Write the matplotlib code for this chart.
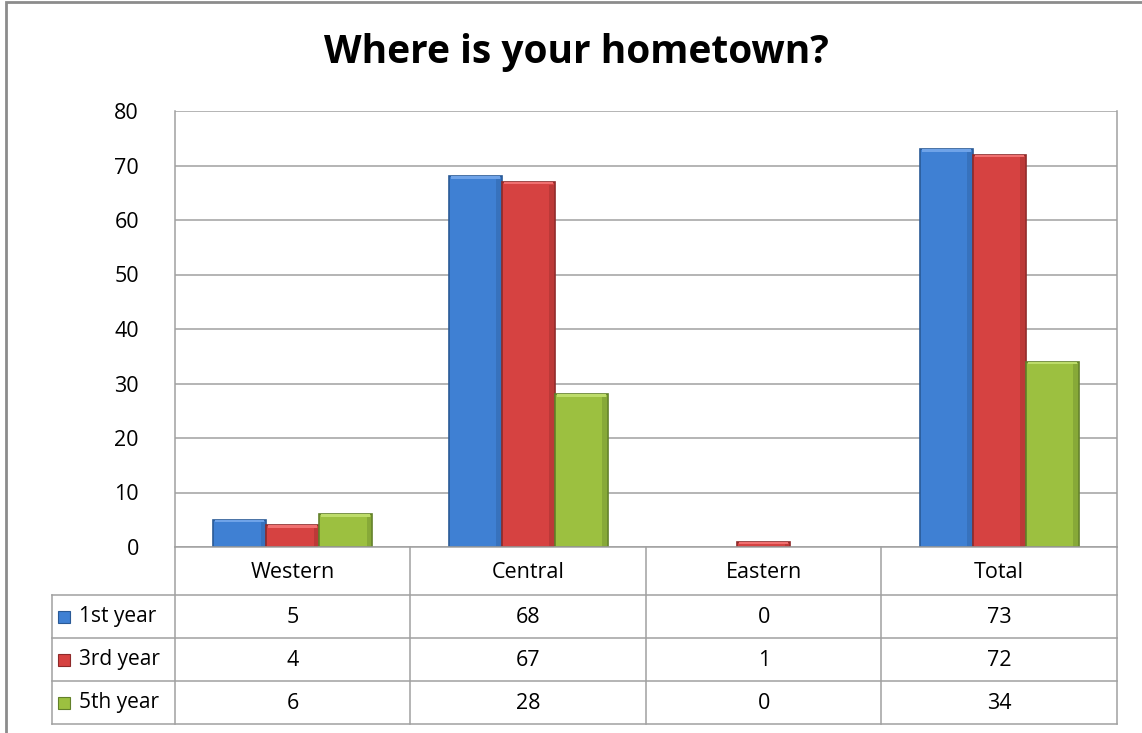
import matplotlib
matplotlib.use("Agg")
import matplotlib.pyplot as plt
from matplotlib.patches import Rectangle

title = "Where is your hometown?"
categories = ["Western", "Central", "Eastern", "Total"]
series_names = ["1st year", "3rd year", "5th year"]
first_year = [5, 68, 0, 73]
third_year = [4, 67, 1, 72]
fifth_year = [6, 28, 0, 34]
yticks = [0, 10, 20, 30, 40, 50, 60, 70, 80]

series = [first_year, third_year, fifth_year]
colors = ["#3F80D3", "#D64241", "#9CC040"]
edges = ["#2A5A96", "#8E2A2A", "#62802A"]
lights = ["#6FA3E8", "#F07070", "#BDDC6A"]

FONT = "Open Sans"
FS = 15.5
W, H = 1142, 733
fig = plt.figure(figsize=(W / 100, H / 100), dpi=100)
fig.patch.set_facecolor("white")

def px(x0, y0, x1, y1):
    return [x0 / W, 1 - y1 / H, (x1 - x0) / W, (y1 - y0) / H]

# outer border
fig.add_artist(Rectangle((6 / W, -0.1), 1.2, 1 - 2 / H + 0.1, transform=fig.transFigure,
                         fill=False, edgecolor="#8C8C8C", linewidth=2))

fig.text(576 / W, 1 - 52 / H, title, ha="center", va="center", fontsize=28,
         fontweight="bold", family=FONT, color="black")

ax = fig.add_axes(px(175, 111, 1117, 547))
ax.set_xlim(-0.5, 3.5)
ax.set_ylim(0, 80)
ax.set_yticks(yticks)
ax.set_yticklabels([str(v) for v in yticks], family=FONT, fontsize=FS)
ax.tick_params(axis="y", length=0, pad=26)
ax.set_xticks([])
ax.yaxis.grid(True, color="#A0A0A0", linewidth=1.1)
ax.set_axisbelow(True)
for s in ["top", "bottom"]:
    ax.spines[s].set_visible(False)
for s in ["left", "right"]:
    ax.spines[s].set_color("#A0A0A0")
    ax.spines[s].set_linewidth(1.1)

bw = 0.225
for i, (vals, c, e, l) in enumerate(zip(series, colors, edges, lights)):
    xs = [k + (i - 1) * bw for k in range(len(categories))]
    lws = [1.2 if v > 0 else 0 for v in vals]
    ax.bar(xs, vals, width=bw, color=c, edgecolor=e, linewidth=lws, zorder=3)
    # bevel: light top band and darker right edge strip
    hl = [min(v, 0.45) for v in vals]
    ax.bar(xs, hl, bottom=[v - h for v, h in zip(vals, hl)], width=bw * 0.92,
           color=l, linewidth=0, zorder=4)
    ax.bar([x + bw * 0.44 for x in xs], [max(v - 0.5, 0) for v in vals], width=bw * 0.08,
           color=e, alpha=0.35, linewidth=0, zorder=4)

# data table
tab = fig.add_axes(px(52, 547, 1117, 726))
left_w = 123 / 235.5
tab.set_xlim(-0.5 - left_w, 3.5)
tab.set_ylim(179, 0)
tab.axis("off")
gc = "#A0A0A0"
rows = [0, 48, 91, 134, 177]
tab.plot([-0.5, 3.5], [rows[0]] * 2, color=gc, lw=1.1, clip_on=False)
for r in rows[1:]:
    tab.plot([-0.5 - left_w, 3.5], [r, r], color=gc, lw=1.1, clip_on=False)
tab.plot([-0.5 - left_w] * 2, [rows[1], rows[-1]], color=gc, lw=1.1, clip_on=False)
for k in range(5):
    tab.plot([k - 0.5] * 2, [rows[0], rows[-1]], color=gc, lw=1.1, clip_on=False)

for k, cat in enumerate(categories):
    tab.text(k, (rows[0] + rows[1]) / 2 + 1, cat, ha="center", va="center",
             family=FONT, fontsize=FS)
for i, (name, vals) in enumerate(zip(series_names, series)):
    yc = (rows[i + 1] + rows[i + 2]) / 2
    tab.add_patch(Rectangle((-0.5 - left_w + 6 / 235.5, yc - 6), 12 / 235.5, 12,
                            facecolor=colors[i], edgecolor=edges[i], lw=0.8))
    tab.text(-0.5 - left_w + 27 / 235.5, yc, name, ha="left", va="center",
             family=FONT, fontsize=FS - 0.5)
    for k, v in enumerate(vals):
        tab.text(k, yc + 1, str(v), ha="center", va="center", family=FONT, fontsize=FS)

fig.savefig("out.png", dpi=100)
